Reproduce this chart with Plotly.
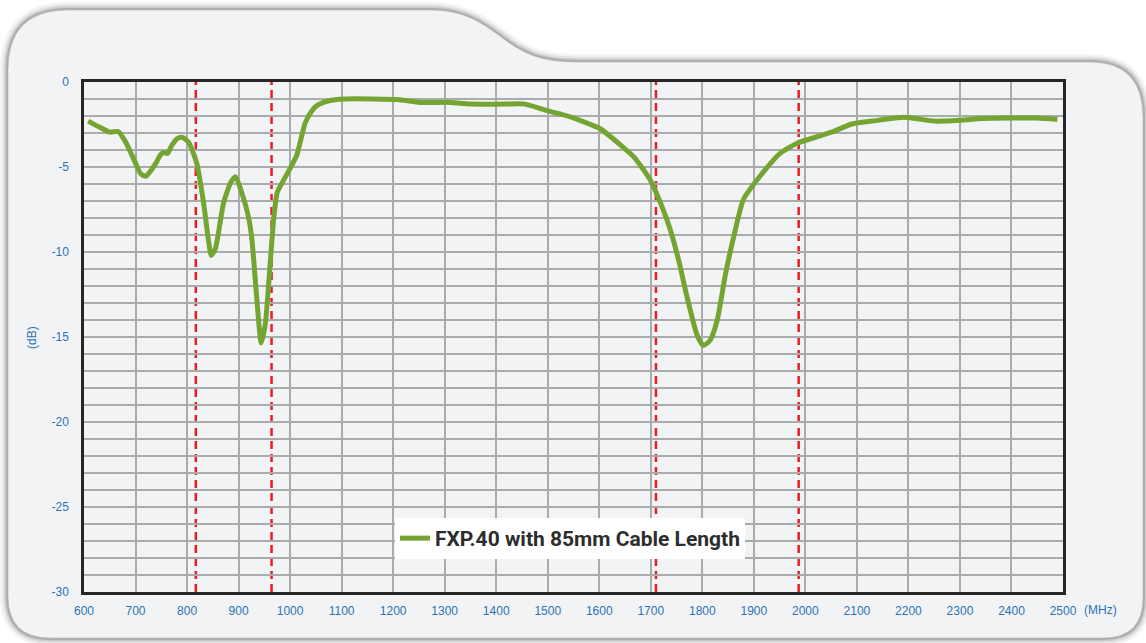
import plotly.graph_objects as go

# ---- data ----
freq_mhz = [608, 630, 650, 667, 682, 699, 710, 720, 730, 741, 748, 755, 762, 770, 780, 790, 803,
            819, 832, 842, 847, 855, 871, 885, 894, 905, 919, 926, 935, 944, 952, 961, 968, 975,
            984, 998, 1013, 1029, 1042, 1054, 1075, 1107, 1160, 1213, 1252, 1311, 1349, 1417,
            1456, 1495, 1544, 1583, 1602, 1641, 1667, 1699, 1720, 1738, 1755, 1770, 1790, 1802,
            1815, 1829, 1845, 1861, 1880, 1913, 1951, 1984, 2020, 2055, 2090, 2130, 2192, 2250,
            2300, 2344, 2398, 2450, 2489]
s11_db = [-2.3, -2.65, -2.95, -2.92, -3.6, -4.7, -5.4, -5.55, -5.2, -4.7, -4.3, -4.15, -4.2, -3.75,
          -3.35, -3.25, -3.55, -4.8, -7.1, -9.4, -10.2, -9.8, -7.1, -5.9, -5.57, -6.4, -7.9, -9.3,
          -12.6, -15.35, -14.2, -10.8, -8.1, -6.5, -5.96, -5.2, -4.3, -2.43, -1.7, -1.35, -1.1,
          -1.0, -1.0, -1.05, -1.2, -1.2, -1.3, -1.3, -1.3, -1.65, -2.05, -2.5, -2.75, -3.7, -4.4,
          -5.76, -7.2, -8.7, -10.6, -12.6, -14.9, -15.5, -15.2, -14.0, -11.3, -9.1, -6.9, -5.5,
          -4.2, -3.6, -3.25, -2.9, -2.47, -2.3, -2.08, -2.3, -2.25, -2.15, -2.12, -2.12, -2.2]
band_edges_mhz = [817, 964, 1710, 1987]
x_tick_values = list(range(600, 2501, 100))
y_tick_values = [0, -5, -10, -15, -20, -25, -30]
series_name = "FXP.40 with 85mm Cable Length"

# ---- layout geometry (pixels) ----
W, H = 1146, 643
L, R, T, B = 84, 1063, 82, 592


def px(x):
    return (x - L) / (R - L)


def py(y):
    return (B - y) / (B - T)


def pt(x, y):
    return f"{px(x):.5f},{py(y):.5f}"


panel_path = (
    f"M {pt(8, 70)} Q {pt(8, 10)} {pt(68, 10)} L {pt(430, 10)} "
    f"C {pt(470, 10)} {pt(488, 28)} {pt(508, 42)} "
    f"C {pt(528, 56)} {pt(545, 62)} {pt(578, 62)} "
    f"L {pt(1090, 62)} Q {pt(1143, 62)} {pt(1143, 118)} "
    f"L {pt(1143, 598)} Q {pt(1143, 638)} {pt(1103, 638)} "
    f"L {pt(50, 638)} Q {pt(8, 638)} {pt(8, 596)} Z"
)

shapes = []
# soft shadow halo
for w, op in [(16, 0.06), (11, 0.09), (7, 0.14), (4, 0.2)]:
    shapes.append(dict(type="path", path=panel_path, xref="paper", yref="paper",
                       line=dict(color=f"rgba(60,60,60,{op})", width=w),
                       fillcolor="rgba(0,0,0,0)", layer="below"))
shapes.append(dict(type="path", path=panel_path, xref="paper", yref="paper",
                   line=dict(color="rgba(180,180,180,0.6)", width=1),
                   fillcolor="#f2f3f5", layer="below"))

for f in band_edges_mhz:
    shapes.append(dict(type="line", xref="x", yref="paper", x0=f, x1=f, y0=0, y1=1,
                       line=dict(color="#ec1c24", width=2.5, dash="8px,5px"),
                       layer="between"))

fig = go.Figure()
fig.add_trace(go.Scatter(
    x=freq_mhz, y=s11_db, mode="lines", name=series_name,
    line=dict(color="#74a532", width=5, shape="spline", smoothing=0.6),
    showlegend=True,
))

tick_font = dict(family="Liberation Sans, Arial, sans-serif", size=12, color="#2a73b5")

fig.update_layout(
    width=W, height=H,
    margin=dict(l=L, r=W - R, t=T, b=H - B),
    paper_bgcolor="white",
    plot_bgcolor="rgba(0,0,0,0)",
    shapes=shapes,
    showlegend=True,
    legend=dict(
        x=px(395), y=py(518), xanchor="left", yanchor="top",
        bgcolor="white", borderwidth=0,
        font=dict(family="Roboto, sans-serif", size=21, color="#2d2d2d", weight="bold"),
        itemwidth=30,
    ),
    xaxis=dict(
        range=[600, 2500], tickvals=x_tick_values,
        ticktext=[str(v) for v in x_tick_values],
        showgrid=True, gridcolor="#a9abad", gridwidth=1.5,
        showline=True, mirror=True, linecolor="#262626", linewidth=2.5,
        ticks="outside", ticklen=6, tickcolor="rgba(0,0,0,0)",
        tickfont=tick_font, zeroline=False,
    ),
    yaxis=dict(
        range=[-30, 0], tickvals=y_tick_values,
        ticktext=[str(v) for v in y_tick_values],
        showgrid=True, gridcolor="#a9abad", gridwidth=1.5,
        minor=dict(dtick=1, showgrid=True, gridcolor="#a9abad", gridwidth=1.5),
        showline=True, mirror=True, linecolor="#262626", linewidth=2.5,
        ticks="outside", ticklen=10, tickcolor="rgba(0,0,0,0)",
        tickfont=tick_font, zeroline=False,
    ),
    annotations=[
        dict(text="(MHz)", xref="paper", yref="paper", x=px(1100), y=py(610),
             showarrow=False, font=tick_font, xanchor="center", yanchor="middle"),
        dict(text="(dB)", xref="paper", yref="paper", x=px(32), y=py(338),
             showarrow=False, font=tick_font, textangle=-90,
             xanchor="center", yanchor="middle"),
    ],
)

fig.write_html(
    "out.html",
    config={"displayModeBar": False},
    post_script="document.body.style.margin='0';document.body.style.overflow='hidden';",
)
